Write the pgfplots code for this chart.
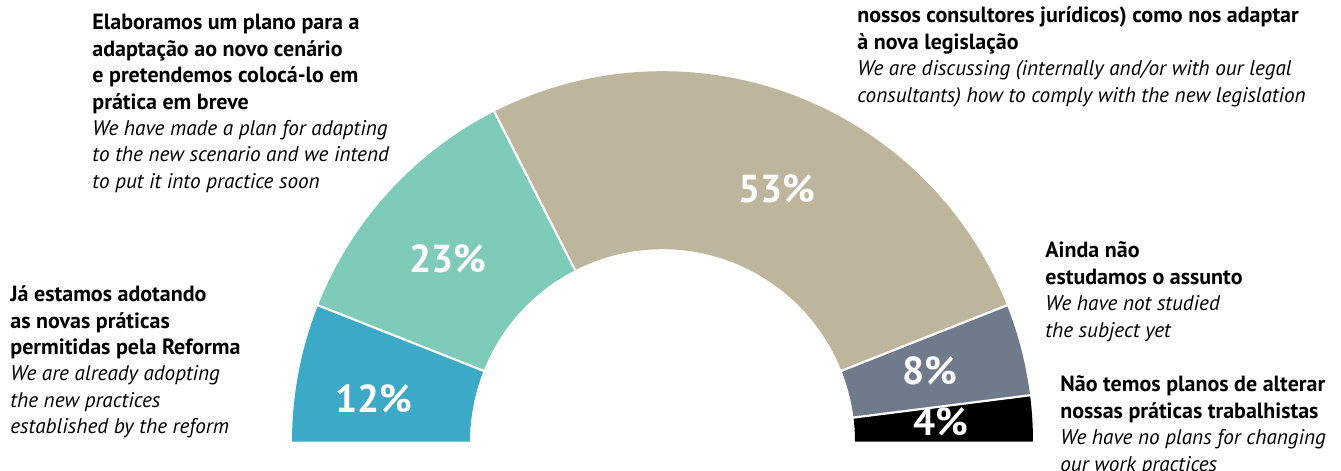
\documentclass[border=0pt]{standalone}
\usepackage{pgfplots}
\pgfplotsset{compat=1.18}
\usepackage{fontspec}
\setmainfont{PT Sans}
\definecolor{cA}{HTML}{3CA9C6}
\definecolor{cB}{HTML}{7FCBBA}
\definecolor{cC}{HTML}{BEB59D}
\definecolor{cD}{HTML}{6F7A8A}
\definecolor{cE}{HTML}{000000}
% centre of the half ring (pixel units), outer radius 185.25pt, inner radius 96.25pt
\newcommand{\sector}[3]{%
  \fill[#3] (axis cs:662.5,29.3) ++({180-1.8*#1}:185.25pt)
    arc[start angle={180-1.8*#1}, end angle={180-1.8*#2}, radius=185.25pt]
    -- ++({360-1.8*#2}:89pt)
    arc[start angle={180-1.8*#2}, end angle={180-1.8*#1}, radius=96.25pt] -- cycle;}
\newcommand{\sep}[1]{%
  \draw[white, line width=1.1pt] (axis cs:662.5,29.3) ++({180-1.8*#1}:95pt) -- ++({180-1.8*#1}:92pt);}
\newcommand{\itl}[1]{{\fontsize{10.6}{13.2}\selectfont\itshape #1}}
\newcommand{\lab}[3]{\node[anchor=base west, inner sep=0pt, align=left] at (axis cs:#1,#2)
  {\fontsize{11}{13.2}\selectfont\begin{tabular}[t]{@{}l@{}}#3\end{tabular}};}
\newcommand{\pct}[3]{\node[anchor=base, inner sep=0pt, text=white] at (axis cs:#1,#2)
  {\fontsize{19.5}{22}\selectfont\bfseries #3};}
\begin{document}
\begin{tikzpicture}
\begin{axis}[
  at={(0,0)}, anchor=south west,
  x=0.5pt, y=0.5pt,
  xmin=0, xmax=1341, ymin=0, ymax=471,
  enlargelimits=false, hide axis, clip=false,
]
% shares in percent: 12, 23, 53, 8, 4 (cumulative bounds)
\sector{0}{12}{cA}
\sector{12}{35}{cB}
\sector{35}{88}{cC}
\sector{88}{96}{cD}
\sector{96}{100}{cE}
\sep{12}\sep{35}\sep{88}\sep{96}
\pct{374}{58}{12\%}
\pct{447.5}{198.7}{23\%}
\pct{776.7}{268.3}{53\%}
\pct{930}{86}{8\%}
\pct{941}{35}{4\%}
\lab{92}{441}{\textbf{Elaboramos um plano para a}\\\textbf{adaptação ao novo cenário}\\\textbf{e pretendemos colocá-lo em}\\\textbf{prática em breve}\\\itl{We have made a plan for adapting}\\\itl{to the new scenario and we intend}\\\itl{to put it into practice soon}}
\lab{857}{448}{\textbf{nossos consultores jurídicos) como nos adaptar}\\\textbf{à nova legislação}\\\itl{We are discussing (internally and/or with our legal}\\\itl{consultants) how to comply with the new legislation}}
\lab{10}{169.3}{\textbf{Já estamos adotando}\\\textbf{as novas práticas}\\\textbf{permitidas pela Reforma}\\\itl{We are already adopting}\\\itl{the new practices}\\\itl{established by the reform}}
\lab{1045}{213}{\textbf{Ainda não}\\\textbf{estudamos o assunto}\\\itl{We have not studied}\\\itl{the subject yet}}
\lab{1060}{79}{\textbf{Não temos planos de alterar}\\\textbf{nossas práticas trabalhistas}\\\itl{We have no plans for changing}\\\itl{our work practices}}
\end{axis}
\pgfresetboundingbox
\useasboundingbox (0,0) rectangle (670.5pt,235.5pt);
\end{tikzpicture}
\end{document}
